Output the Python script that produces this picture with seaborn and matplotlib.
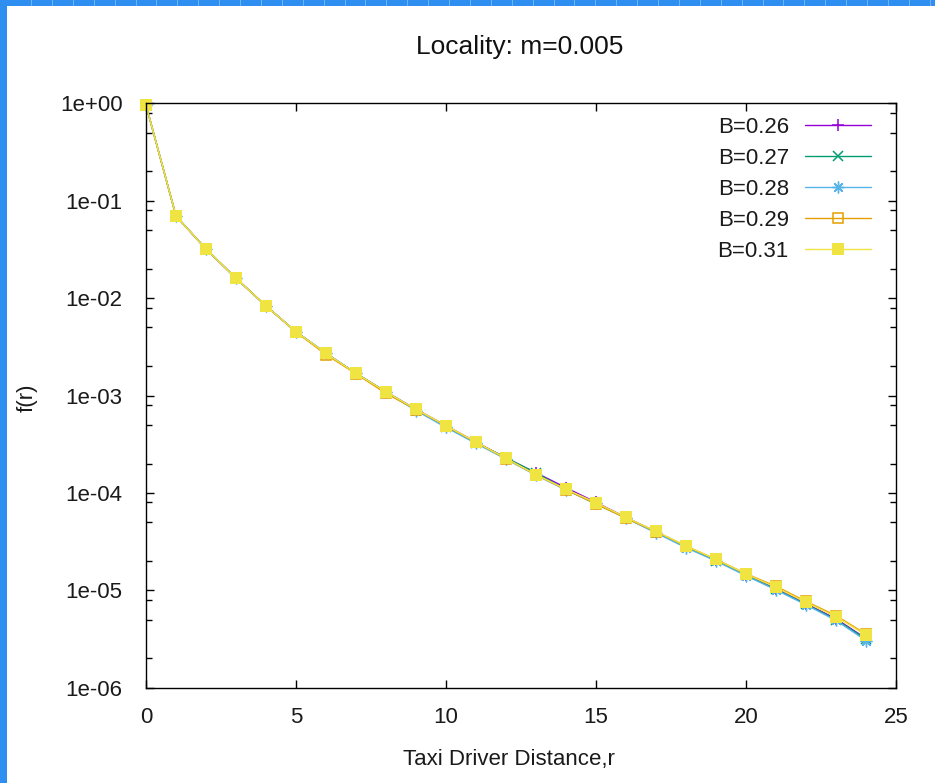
import matplotlib
matplotlib.use("Agg")
import matplotlib.pyplot as plt
import matplotlib.ticker as mticker
from matplotlib.patches import Rectangle
import numpy as np
import pandas as pd
import seaborn as sns

# ---------------- data ----------------
r = list(range(25))

f_b026 = [0.96, 0.0697, 0.0319, 0.0160, 0.0083, 0.00452, 0.00271, 0.00169, 0.00109,
          0.000722, 0.000490, 0.000333, 0.000228, 0.000161, 0.000113, 8.0e-5, 5.6e-5,
          4.0e-5, 2.82e-5, 2.05e-5, 1.45e-5, 1.04e-5, 7.3e-6, 5.1e-6, 3.2e-6]
f_b027 = [0.96, 0.0697, 0.0319, 0.0160, 0.0083, 0.00452, 0.00271, 0.00169, 0.00109,
          0.000715, 0.000480, 0.000328, 0.000230, 0.000160, 0.000108, 7.7e-5, 5.55e-5,
          3.95e-5, 2.78e-5, 2.02e-5, 1.43e-5, 1.02e-5, 7.2e-6, 5.0e-6, 3.15e-6]
f_b028 = [0.96, 0.0697, 0.0319, 0.0160, 0.0083, 0.00452, 0.00271, 0.00169, 0.00108,
          0.000700, 0.000470, 0.000322, 0.000222, 0.000152, 0.000107, 7.8e-5, 5.5e-5,
          3.88e-5, 2.74e-5, 2.0e-5, 1.41e-5, 1.01e-5, 7.1e-6, 4.9e-6, 3.05e-6]
f_b029 = [0.96, 0.0697, 0.0319, 0.0160, 0.0083, 0.00448, 0.00263, 0.00167, 0.00105,
          0.000718, 0.000488, 0.000331, 0.000225, 0.000153, 0.000108, 7.7e-5, 5.5e-5,
          4.0e-5, 2.85e-5, 2.08e-5, 1.48e-5, 1.10e-5, 7.7e-6, 5.5e-6, 3.55e-6]
f_b031 = [0.96, 0.0697, 0.0319, 0.0160, 0.0083, 0.00452, 0.00271, 0.00169, 0.00109,
          0.000722, 0.000490, 0.000333, 0.000226, 0.000154, 0.000109, 7.93e-5, 5.61e-5,
          4.03e-5, 2.85e-5, 2.08e-5, 1.47e-5, 1.07e-5, 7.53e-6, 5.36e-6, 3.47e-6]

labels = ["B=0.26", "B=0.27", "B=0.28", "B=0.29", "B=0.31"]
series = [f_b026, f_b027, f_b028, f_b029, f_b031]

yticks = [1e0, 1e-1, 1e-2, 1e-3, 1e-4, 1e-5, 1e-6]
xticks = [0, 5, 10, 15, 20, 25]

# ---------------- style ----------------
sns.set_theme(style="ticks")
plt.rcParams['font.family'] = ['Liberation Sans', 'DejaVu Sans']

colors = ["#9400d3", "#009e73", "#56b4e9", "#e69f00", "#f0e442"]
styles = [
    dict(marker="+", markersize=9, markeredgewidth=1.1),
    dict(marker="x", markersize=6.5, markeredgewidth=1.1),
    dict(marker=(8, 2, 0), markersize=8.5, markeredgewidth=1.0),
    dict(marker="s", markersize=7.5, markeredgewidth=1.1, markerfacecolor="none"),
    dict(marker="s", markersize=9, markeredgewidth=0),
]

fig = plt.figure(figsize=(9.35, 7.83), dpi=100)
ax = fig.add_axes([146 / 935, 1 - 687.7 / 783, (896 - 146) / 935, (687.7 - 103.3) / 783])

for lab, vals, col, st in zip(labels, series, colors, styles):
    df = pd.DataFrame({"r": r, "f": vals})
    sns.lineplot(data=df, x="r", y="f", ax=ax, color=col, linewidth=1.0,
                 label=lab, markeredgecolor=col, clip_on=False, **st)

ax.set_yscale("log")
ax.set_xlim(0, 25)
ax.set_ylim(1e-6, 1e0)
ax.set_xticks(xticks)
ax.set_yticks(yticks)
ax.yaxis.set_major_formatter(mticker.FuncFormatter(lambda v, p: f"{v:.0e}"))
ax.yaxis.set_minor_locator(mticker.LogLocator(base=10, subs=[2, 5, 8]))
ax.yaxis.set_minor_formatter(mticker.NullFormatter())
ax.xaxis.set_minor_locator(mticker.NullLocator())

ax.tick_params(which="both", direction="in", top=True, right=True, colors="black",
               labelcolor="#1a1a1a", labelsize=16)
ax.tick_params(which="major", length=6, width=1.0)
ax.tick_params(which="minor", length=4, width=1.0)
ax.tick_params(axis="y", pad=17)
ax.tick_params(axis="x", pad=14)
for s in ax.spines.values():
    s.set_visible(True)
    s.set_color("black")
    s.set_linewidth(1.0)

ax.set_xlabel("")
ax.set_ylabel("")
fig.text(509 / 935, 1 - 760 / 783, "Taxi Driver Distance,r", ha="center", va="center",
         fontsize=16, color="#1a1a1a")
fig.text(27 / 935, 1 - 398 / 783, "f(r)", ha="center", va="center", rotation=90,
         fontsize=16, color="#1a1a1a")
fig.text(520 / 935, 1 - 47 / 783, "Locality: m=0.005", ha="center", va="center",
         fontsize=19, color="#111111")

leg = ax.legend(loc="upper right", bbox_to_anchor=(871 / 935, 1 - 117 / 783),
                bbox_transform=fig.transFigure, frameon=False, markerfirst=False,
                fontsize=16, handlelength=2.95, handletextpad=0.75, labelspacing=0.45,
                borderpad=0, borderaxespad=0)
for t in leg.get_texts():
    t.set_color("#1a1a1a")

# screenshot window border (blue)
fig.patches.append(Rectangle((0, 0), 7 / 935, 1, transform=fig.transFigure,
                             facecolor="#2e8ff0", edgecolor="none", zorder=10))
fig.patches.append(Rectangle((0, 1 - 6 / 783), 1, 6 / 783, transform=fig.transFigure,
                             facecolor="#2e8ff0", edgecolor="none", zorder=10))
for xs in np.arange(31, 935, 20.9):
    fig.patches.append(Rectangle((xs / 935, 1 - 6 / 783), 1 / 935, 6 / 783,
                                 transform=fig.transFigure, facecolor="#6db3f7",
                                 edgecolor="none", zorder=11))

fig.savefig("out.png", dpi=100)
